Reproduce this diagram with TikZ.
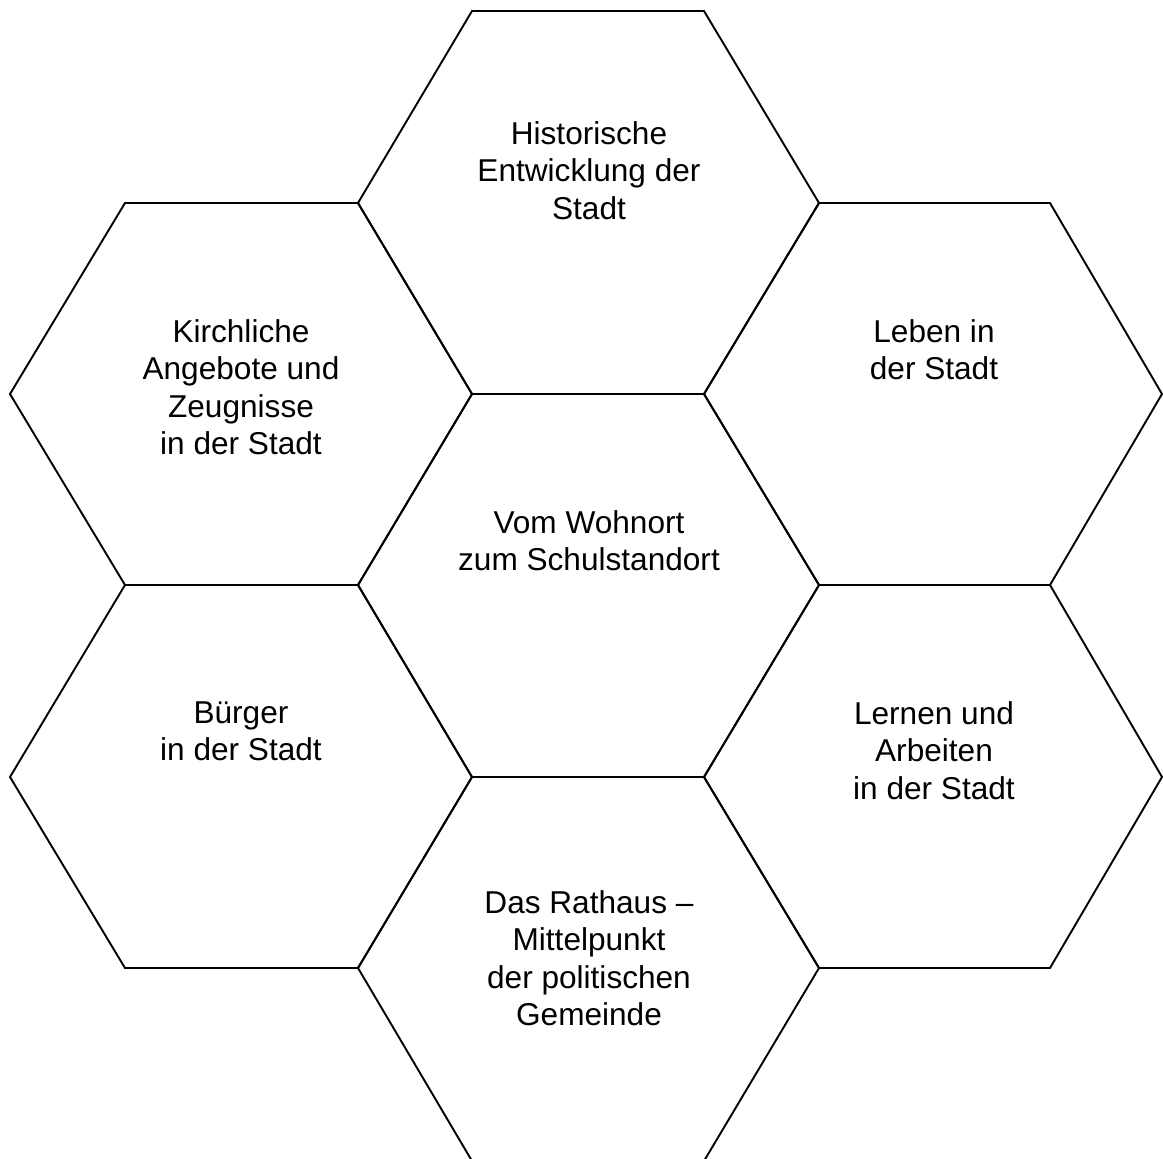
\documentclass[tikz,border=0pt]{standalone}
\usepackage{fontspec}
\setmainfont{Liberation Sans}
\begin{document}
\begin{tikzpicture}[x=1pt,y=-1pt,
  cell/.style={draw=black,line width=1.9pt,line join=miter},
  label/.style={anchor=north,inner sep=0pt,align=center,
    font=\fontsize{31.6}{37.3}\selectfont}]
\useasboundingbox (0,0) rectangle (1163,1159);
% vertex grid of the honeycomb
\def\Xa{10}\def\Xb{125}\def\Xc{358}\def\Xd{472}
\def\Xe{704}\def\Xf{819}\def\Xg{1050}\def\Xh{1162}
\def\Ya{11}\def\Yb{203}\def\Yc{394}\def\Yd{585}
\def\Ye{777}\def\Yf{968}\def\Yg{1161}
\begin{scope}
\clip (0,0) rectangle (1163,1159);
% middle column
\draw[cell] (\Xd,\Ya) -- (\Xe,\Ya) -- (\Xf,\Yb) -- (\Xe,\Yc) -- (\Xd,\Yc) -- (\Xc,\Yb) -- cycle;
\draw[cell] (\Xd,\Yc) -- (\Xe,\Yc) -- (\Xf,\Yd) -- (\Xe,\Ye) -- (\Xd,\Ye) -- (\Xc,\Yd) -- cycle;
\draw[cell] (\Xd,\Ye) -- (\Xe,\Ye) -- (\Xf,\Yf) -- (\Xe,\Yg) -- (\Xd,\Yg) -- (\Xc,\Yf) -- cycle;
% left column
\draw[cell] (\Xb,\Yb) -- (\Xc,\Yb) -- (\Xd,\Yc) -- (\Xc,\Yd) -- (\Xb,\Yd) -- (\Xa,\Yc) -- cycle;
\draw[cell] (\Xb,\Yd) -- (\Xc,\Yd) -- (\Xd,\Ye) -- (\Xc,\Yf) -- (\Xb,\Yf) -- (\Xa,\Ye) -- cycle;
% right column
\draw[cell] (\Xf,\Yb) -- (\Xg,\Yb) -- (\Xh,\Yc) -- (\Xg,\Yd) -- (\Xf,\Yd) -- (\Xe,\Yc) -- cycle;
\draw[cell] (\Xf,\Yd) -- (\Xg,\Yd) -- (\Xh,\Ye) -- (\Xg,\Yf) -- (\Xf,\Yf) -- (\Xe,\Ye) -- cycle;
\end{scope}
% cell labels
\node[label] (top)    at (589,121.5) {Historische\\Entwicklung der\\Stadt};
\node[label] (upleft) at (241,319.5) {Kirchliche\\Angebote und\\Zeugnisse\\in der Stadt};
\node[label] (upright) at (934,319.5) {Leben in\\der Stadt};
\node[label] (centre) at (589,510.5) {Vom Wohnort\\zum Schulstandort};
\node[label] (lowleft) at (241,701.5) {Bürger\\in der Stadt};
\node[label] (lowright) at (934,701.5) {Lernen und\\Arbeiten\\in der Stadt};
\node[label] (bottom) at (589,890.5) {Das Rathaus –\\Mittelpunkt\\der politischen\\Gemeinde};
\end{tikzpicture}
\end{document}
